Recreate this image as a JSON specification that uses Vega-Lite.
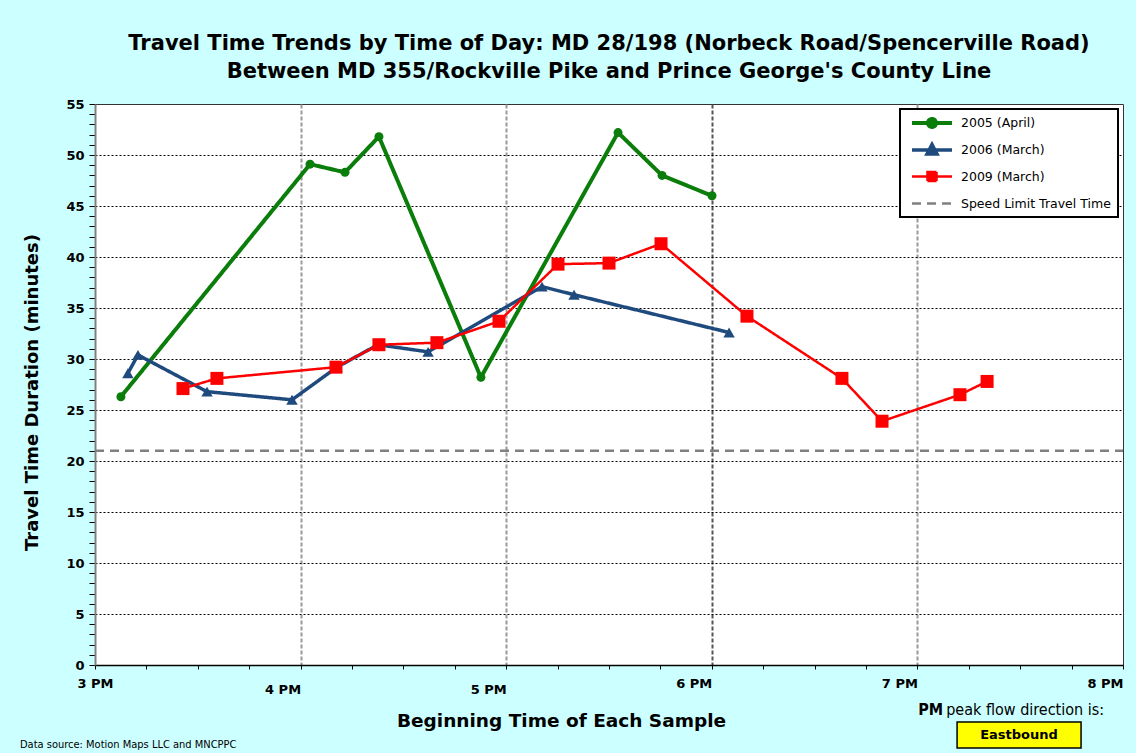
{
  "$schema": "https://vega.github.io/schema/vega-lite/v6.json",
  "width": 1028,
  "height": 561,
  "autosize": {"type": "none"},
  "padding": {"left": 95, "top": 104, "right": 13, "bottom": 88},
  "background": "#CCFFFF",
  "title": {
    "text": ["Travel Time Trends by Time of Day: MD 28/198 (Norbeck Road/Spencerville Road)", "Between MD 355/Rockville Pike and Prince George's County Line"],
    "font": "DejaVu Sans",
    "fontSize": 21,
    "fontWeight": "bold",
    "color": "black",
    "lineHeight": 28,
    "offset": 16,
    "anchor": "middle"
  },
  "datasets": {
    "series": [
      {"s": "2005 (April)", "t": 15.126, "m": 26.3},
      {"s": "2005 (April)", "t": 16.046, "m": 49.1},
      {"s": "2005 (April)", "t": 16.216, "m": 48.3},
      {"s": "2005 (April)", "t": 16.381, "m": 51.8},
      {"s": "2005 (April)", "t": 16.877, "m": 28.2},
      {"s": "2005 (April)", "t": 17.544, "m": 52.2},
      {"s": "2005 (April)", "t": 17.758, "m": 48.0},
      {"s": "2005 (April)", "t": 18.001, "m": 46.0},
      {"s": "2006 (March)", "t": 15.160, "m": 28.6},
      {"s": "2006 (March)", "t": 15.209, "m": 30.4},
      {"s": "2006 (March)", "t": 15.545, "m": 26.8},
      {"s": "2006 (March)", "t": 15.958, "m": 26.0},
      {"s": "2006 (March)", "t": 16.177, "m": 29.2},
      {"s": "2006 (March)", "t": 16.376, "m": 31.4},
      {"s": "2006 (March)", "t": 16.620, "m": 30.7},
      {"s": "2006 (March)", "t": 17.174, "m": 37.1},
      {"s": "2006 (March)", "t": 17.330, "m": 36.3},
      {"s": "2006 (March)", "t": 18.084, "m": 32.6},
      {"s": "2009 (March)", "t": 15.428, "m": 27.1},
      {"s": "2009 (March)", "t": 15.593, "m": 28.1},
      {"s": "2009 (March)", "t": 16.172, "m": 29.2},
      {"s": "2009 (March)", "t": 16.381, "m": 31.4},
      {"s": "2009 (March)", "t": 16.663, "m": 31.6},
      {"s": "2009 (March)", "t": 16.965, "m": 33.7},
      {"s": "2009 (March)", "t": 17.252, "m": 39.3},
      {"s": "2009 (March)", "t": 17.500, "m": 39.4},
      {"s": "2009 (March)", "t": 17.753, "m": 41.3},
      {"s": "2009 (March)", "t": 18.171, "m": 34.2},
      {"s": "2009 (March)", "t": 18.633, "m": 28.1},
      {"s": "2009 (March)", "t": 18.828, "m": 23.9},
      {"s": "2009 (March)", "t": 19.207, "m": 26.5},
      {"s": "2009 (March)", "t": 19.339, "m": 27.8},
      {"s": "Speed Limit Travel Time", "t": 15, "m": 21},
      {"s": "Speed Limit Travel Time", "t": 20, "m": 21}
    ]
  },
  "layer": [
    {
      "data": {"name": "series"},
      "mark": {"type": "line"},
      "encoding": {
        "x": {
          "field": "t", "type": "quantitative",
          "scale": {"domain": [15, 20], "nice": false, "zero": false},
          "axis": {
            "values": [15, 15.25, 15.5, 15.75, 16, 16.25, 16.5, 16.75, 17, 17.25, 17.5, 17.75, 18, 18.25, 18.5, 18.75, 19, 19.25, 19.5, 19.75, 20],
            "tickCount": 100,
            "title": "Beginning Time of Each Sample",
            "titleFont": "DejaVu Sans",
            "titleFontSize": 18.5,
            "titleFontWeight": "bold",
            "titleColor": "black",
            "titleX": 466,
            "titleY": 55,
            "titleAlign": "center",
            "titleBaseline": "middle",
            "labelExpr": "datum.value % 1 === 0 ? (datum.value - 12) + ' PM' : ''",
            "labelFont": "DejaVu Sans",
            "labelFontSize": 13,
            "labelFontWeight": "bold",
            "labelColor": "black",
            "labelOverlap": false,
            "labelFlush": false,
            "labelAlign": {"condition": {"test": "datum.value === 15", "value": "center"}, "value": "right"},
            "labelPadding": {"condition": {"test": "datum.value === 16 || datum.value === 17", "value": 14}, "value": 8},
            "tickSize": 4,
            "tickColor": "black",
            "domainColor": "black",
            "domainWidth": 1.5,
            "grid": true,
            "gridColor": {"condition": {"test": "datum.value === 18", "value": "#555555"}, "value": "#999999"},
            "gridOpacity": {"condition": {"test": "datum.value % 1 === 0 && datum.value > 15 && datum.value < 20", "value": 1}, "value": 0},
            "gridDash": [4, 2],
            "gridWidth": 2
          }
        },
        "y": {
          "field": "m", "type": "quantitative",
          "scale": {"domain": [0, 55], "nice": false},
          "axis": {
            "values": [0,1,2,3,4,5,6,7,8,9,10,11,12,13,14,15,16,17,18,19,20,21,22,23,24,25,26,27,28,29,30,31,32,33,34,35,36,37,38,39,40,41,42,43,44,45,46,47,48,49,50,51,52,53,54,55],
            "tickCount": 100,
            "title": "Travel Time Duration (minutes)",
            "titleFont": "DejaVu Sans",
            "titleFontSize": 18,
            "titleFontWeight": "bold",
            "titleColor": "black",
            "titleX": -63,
            "titleY": 288,
            "titleAngle": -90,
            "titleAlign": "center",
            "titleBaseline": "middle",
            "labelExpr": "datum.value % 5 === 0 ? '' + datum.value : ''",
            "labelFont": "DejaVu Sans",
            "labelFontSize": 13,
            "labelFontWeight": "bold",
            "labelColor": "black",
            "labelPadding": 5,
            "labelOverlap": false,
            "tickSize": 6,
            "tickColor": "black",
            "domainColor": "#808080",
            "domainWidth": 2,
            "grid": true,
            "gridColor": "black",
            "gridDash": [2, 2],
            "gridWidth": 1,
            "gridOpacity": {"condition": {"test": "datum.value % 5 === 0 && datum.value > 0 && datum.value < 55", "value": 1}, "value": 0}
          }
        },
        "color": {
          "field": "s", "type": "nominal",
          "scale": {
            "domain": ["2005 (April)", "2006 (March)", "2009 (March)", "Speed Limit Travel Time"],
            "range": ["#0A7D0A", "#1F4A7E", "#FF0000", "#808080"]
          },
          "legend": {
            "title": null,
            "orient": "top-right",
            "offset": 5,
            "fillColor": "white",
            "strokeColor": "black",
            "padding": 7,
            "gridAlign": "all",
            "symbolSize": 100,
            "symbolStrokeWidth": 2,
            "labelFont": "DejaVu Sans",
            "labelFontSize": 12.5,
            "labelColor": "black",
            "labelOffset": 40,
            "rowPadding": 2,
            "encode": {
              "legend": {"update": {"strokeWidth": {"value": 2}}},
              "symbols": {
                "update": {
                  "shape": {"signal": "datum.value === '2005 (April)' ? 'M-0.4,0H7.6M4.4,0A0.8,0.8,0,1,1,2.8,0A0.8,0.8,0,1,1,4.4,0Z' : datum.value === '2006 (March)' ? 'M-0.4,0H7.6M3.6,-1.1L4.6,0.8L2.6,0.8Z' : datum.value === '2009 (March)' ? 'M-0.4,0H7.6M2.7,-0.9H4.5V0.9H2.7Z' : 'M-0.4,0H7.6'"},
                  "fill": {"signal": "scale('color', datum.value)"},
                  "stroke": {"signal": "scale('color', datum.value)"},
                  "strokeDash": {"signal": "datum.value === 'Speed Limit Travel Time' ? [5, 4] : [1, 0]"},
                  "strokeWidth": {"value": 2},
                  "opacity": {"value": 1}
                }
              }
            }
          }
        },
        "strokeDash": {
          "field": "s", "type": "nominal",
          "scale": {
            "domain": ["2005 (April)", "2006 (March)", "2009 (March)", "Speed Limit Travel Time"],
            "range": [[1, 0], [1, 0], [1, 0], [9, 6]]
          },
          "legend": null
        },
        "strokeWidth": {
          "field": "s", "type": "nominal",
          "scale": {
            "type": "ordinal",
            "domain": ["2005 (April)", "2006 (March)", "2009 (March)", "Speed Limit Travel Time"],
            "range": [4, 3.5, 2.5, 2.5]
          },
          "legend": null
        }
      }
    },
    {
      "data": {"name": "series"},
      "transform": [{"filter": "datum.s !== 'Speed Limit Travel Time'"}],
      "mark": {"type": "point", "filled": true, "opacity": 1},
      "encoding": {
        "x": {"field": "t", "type": "quantitative"},
        "y": {"field": "m", "type": "quantitative"},
        "color": {"field": "s", "type": "nominal"},
        "shape": {
          "field": "s", "type": "nominal",
          "scale": {"domain": ["2005 (April)", "2006 (March)", "2009 (March)"], "range": ["circle", "triangle-up", "square"]},
          "legend": null
        },
        "size": {
          "field": "s", "type": "nominal",
          "scale": {"type": "ordinal", "domain": ["2005 (April)", "2006 (March)", "2009 (March)"], "range": [81, 130, 169]},
          "legend": null
        }
      }
    },
    {
      "data": {"values": [{}]},
      "mark": {"type": "rect", "fill": "#FFFF00", "stroke": "black", "strokeWidth": 1.5},
      "encoding": {
        "x": {"datum": 19.193, "type": "quantitative"},
        "x2": {"datum": 19.796},
        "y": {"datum": -5.59, "type": "quantitative"},
        "y2": {"datum": -8.14}
      }
    },
    {
      "data": {"values": [{}]},
      "mark": {"type": "text", "font": "DejaVu Sans", "fontWeight": "bold", "fontSize": 13, "align": "center", "baseline": "middle", "color": "black"},
      "encoding": {
        "x": {"datum": 19.494, "type": "quantitative"},
        "y": {"datum": -6.86, "type": "quantitative"},
        "text": {"value": "Eastbound"}
      }
    },
    {
      "data": {"values": [{}]},
      "mark": {"type": "text", "font": "'Liberation Sans Narrow', 'DejaVu Sans Condensed', sans-serif", "fontWeight": "bold", "fontSize": 16, "align": "right", "baseline": "middle", "color": "black"},
      "encoding": {
        "x": {"datum": 19.125, "type": "quantitative"},
        "y": {"datum": -4.41, "type": "quantitative"},
        "text": {"value": "PM"}
      }
    },
    {
      "data": {"values": [{}]},
      "mark": {"type": "text", "font": "'Liberation Sans Narrow', 'DejaVu Sans Condensed', sans-serif", "fontSize": 16, "align": "left", "baseline": "middle", "color": "black"},
      "encoding": {
        "x": {"datum": 19.14, "type": "quantitative"},
        "y": {"datum": -4.41, "type": "quantitative"},
        "text": {"value": "peak flow direction is:"}
      }
    },
    {
      "data": {"values": [{}]},
      "mark": {"type": "text", "font": "'Liberation Sans Narrow', 'DejaVu Sans Condensed', sans-serif", "fontSize": 11, "align": "left", "baseline": "middle", "color": "black"},
      "encoding": {
        "x": {"datum": 14.635, "type": "quantitative"},
        "y": {"datum": -7.84, "type": "quantitative"},
        "text": {"value": "Data source: Motion Maps LLC and MNCPPC"}
      }
    }
  ],
  "config": {
    "view": {"fill": "white", "stroke": "#333333", "strokeWidth": 1},
    "font": "Liberation Sans"
  }
}
